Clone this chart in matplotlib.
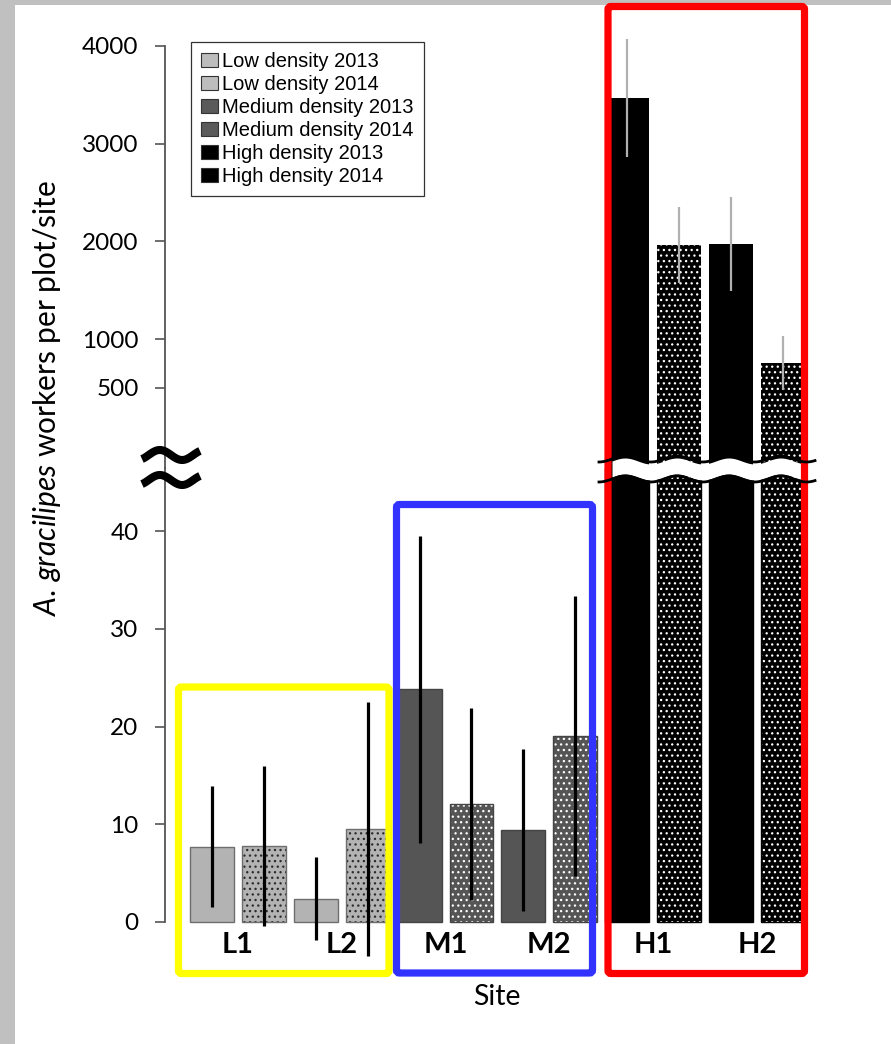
import numpy as np
import matplotlib.pyplot as plt
from matplotlib.patches import Patch, FancyBboxPatch, Rectangle

plt.rcParams['font.family'] = 'Lato'
plt.rcParams['mathtext.fontset'] = 'custom'
plt.rcParams['mathtext.it'] = 'Lato:italic'
plt.rcParams['mathtext.rm'] = 'Lato'
plt.rcParams['hatch.linewidth'] = 0.9

# Data
sites = ["L1", "L2", "M1", "M2", "H1", "H2"]
mean_2013 = [7.7, 2.4, 23.8, 9.4, 3470, 1970]
mean_2014 = [7.8, 9.5, 12.1, 19.0, 1960, 755]
err_2013 = [6.2, 4.2, 15.7, 8.3, 605, 480]
err_2014 = [8.2, 13.0, 9.8, 14.3, 390, 276]
legend_labels = ["Low density 2013", "Low density 2014", "Medium density 2013",
                 "Medium density 2014", "High density 2013", "High density 2014"]
low_ticks = [0, 10, 20, 30, 40]
high_ticks = [500, 1000, 2000, 3000, 4000]

# Styles per density class (low, medium, high)
face = {"L": "#b3b3b3", "M": "#555555", "H": "#000000"}
dots = {"L": "#2a2a2a", "M": "#ffffff", "H": "#ffffff"}
edge = {"L": "#6e6e6e", "M": "#444444", "H": "#000000"}
legend_face = ["#bdbdbd", "#bdbdbd", "#5a5a5a", "#5a5a5a", "#000000", "#000000"]

W, H = 891, 1044
def fx(px):
    return px / W
def fy(py):
    return 1 - py / H

fig = plt.figure(figsize=(W / 100, H / 100), dpi=100)

# pixel geometry of the two axis pieces
left_px, right_px = 165, 840
split_px = 468
ax_bot = fig.add_axes([fx(left_px), fy(962), fx(right_px) - fx(left_px), (962 - split_px) / H])
ax_top = fig.add_axes([fx(left_px), fy(split_px), fx(right_px) - fx(left_px), (split_px - 20) / H])

step = 51.9
x0 = 212
ax_bot.set_xlim((left_px - x0) / step, (right_px - x0) / step)
ax_top.set_xlim((left_px - x0) / step, (right_px - x0) / step)
low_scale = 9.775       # px per unit
high_scale = 0.09767    # px per unit
ax_bot.set_ylim(-(962 - 922) / low_scale, (922 - split_px) / low_scale)
ax_top.set_ylim(1000 - (split_px - 339) / high_scale, 4000 + (46 - 20) / high_scale)

width = 0.846
xpos = np.arange(len(sites) * 2)
means = []
errs = []
for a, b, ea, eb in zip(mean_2013, mean_2014, err_2013, err_2014):
    means += [a, b]
    errs += [ea, eb]

top_bottom = ax_top.get_ylim()[0] - 50
for i, (m, e) in enumerate(zip(means, errs)):
    cls = sites[i // 2][0]
    stip = (i % 2 == 1)
    hatch = '...' if stip else None
    ec = dots[cls] if stip else face[cls]
    ax_bot.bar(xpos[i], m, width, color=face[cls], edgecolor=ec, hatch=hatch, linewidth=0, zorder=2)
    ax_bot.bar(xpos[i], m, width, fill=False, edgecolor=edge[cls], linewidth=1.0, zorder=3)
    if cls == "H":
        ax_top.bar(xpos[i], m - top_bottom, width, bottom=top_bottom, color=face[cls], edgecolor=ec,
                   hatch=hatch, linewidth=0, zorder=2)
        ax_top.errorbar(xpos[i], m, yerr=e, fmt='none', ecolor='#b0b0b0', elinewidth=1.6, capsize=0, zorder=4)
    else:
        ax_bot.errorbar(xpos[i], m, yerr=e, fmt='none', ecolor='black', elinewidth=2.3, capsize=0, zorder=4)

for ax, ticks in ((ax_bot, low_ticks), (ax_top, high_ticks)):
    for s in ('top', 'right', 'bottom'):
        ax.spines[s].set_visible(False)
    ax.spines['left'].set_color('#555555')
    ax.spines['left'].set_linewidth(1.3)
    ax.set_yticks(ticks)
    ax.tick_params(axis='y', direction='out', length=7, width=1.2, color='#555555',
                   labelsize=17.5, pad=12)
    ax.set_xticks([])
    ax.patch.set_visible(False)
ax_bot.spines['left'].set_bounds(0, ax_bot.get_ylim()[1])
ax_top.spines['left'].set_bounds(ax_top.get_ylim()[0], 4000)

# site labels
for k, s in enumerate(sites):
    ax_bot.text(2 * k + 0.5, -(945 - 922) / low_scale, s, ha='center', va='center',
                fontsize=21, fontweight='bold')

fig.text(fx(47), fy(398), r"$\mathit{A.\/gracilipes}$ workers per plot/site", rotation=90,
         ha='center', va='center', fontsize=21.5)
fig.text(fx(497), fy(997), "Site", ha='center', va='center', fontsize=20.5)

handles = [Patch(facecolor=c, edgecolor='#333333', linewidth=0.8) for c in legend_face]
leg = fig.legend(handles, legend_labels, loc='upper left', bbox_to_anchor=(fx(191), fy(42)),
                 frameon=True, fancybox=False, framealpha=1, edgecolor='#333333',
                 prop={'family': 'Liberation Sans', 'size': 14.5}, handlelength=0.85,
                 handleheight=0.7, handletextpad=0.2, labelspacing=0.2, borderpad=0.5,
                 borderaxespad=0)
leg.get_frame().set_linewidth(0.9)

# overlay in pixel coordinates for decorations
ov = fig.add_axes([0, 0, 1, 1])
ov.set_xlim(0, W)
ov.set_ylim(H, 0)
ov.axis('off')
ov.patch.set_visible(False)
ov.set_zorder(5)

ov.add_patch(Rectangle((0, 0), 15, H, color='#c0c0c0', lw=0))
ov.add_patch(Rectangle((0, 0), W, 5, color='#c0c0c0', lw=0))

# axis break symbol
period = 44.6
t = np.linspace(-0.15, 1.15, 60)
xs = 142 + (t + 0.15) * period
for yc in (455, 480):
    ov.plot(xs, yc - 5 * np.sin(2 * np.pi * t), color='black', lw=5.8, solid_capstyle='butt')

# break band across the high bars
xb = np.linspace(599, 815, 200)
wave = 3 * np.sin(2 * np.pi * (xb - 612) / step)
ov.plot(xb, 459 - wave, color='black', lw=2.0)
ov.plot(xb, 479 - wave, color='black', lw=2.0)
xw = np.linspace(612, 801, 200)
wave_w = 3 * np.sin(2 * np.pi * (xw - 612) / step)
ov.fill_between(xw, 461 - wave_w, 477 - wave_w, color='white', lw=0)

# coloured group boxes
for (l, t_, r, b), col in (((178.5, 687, 389, 973.5), '#ffff00'),
                           ((396.5, 504.5, 592.5, 973), '#3333ff'),
                           ((608, 6.5, 804.5, 973.5), '#ff0000')):
    ov.add_patch(FancyBboxPatch((l, t_), r - l, b - t_, boxstyle='round,pad=0,rounding_size=3',
                                fill=False, edgecolor=col, lw=5.2))

fig.savefig('out.png', dpi=100)
